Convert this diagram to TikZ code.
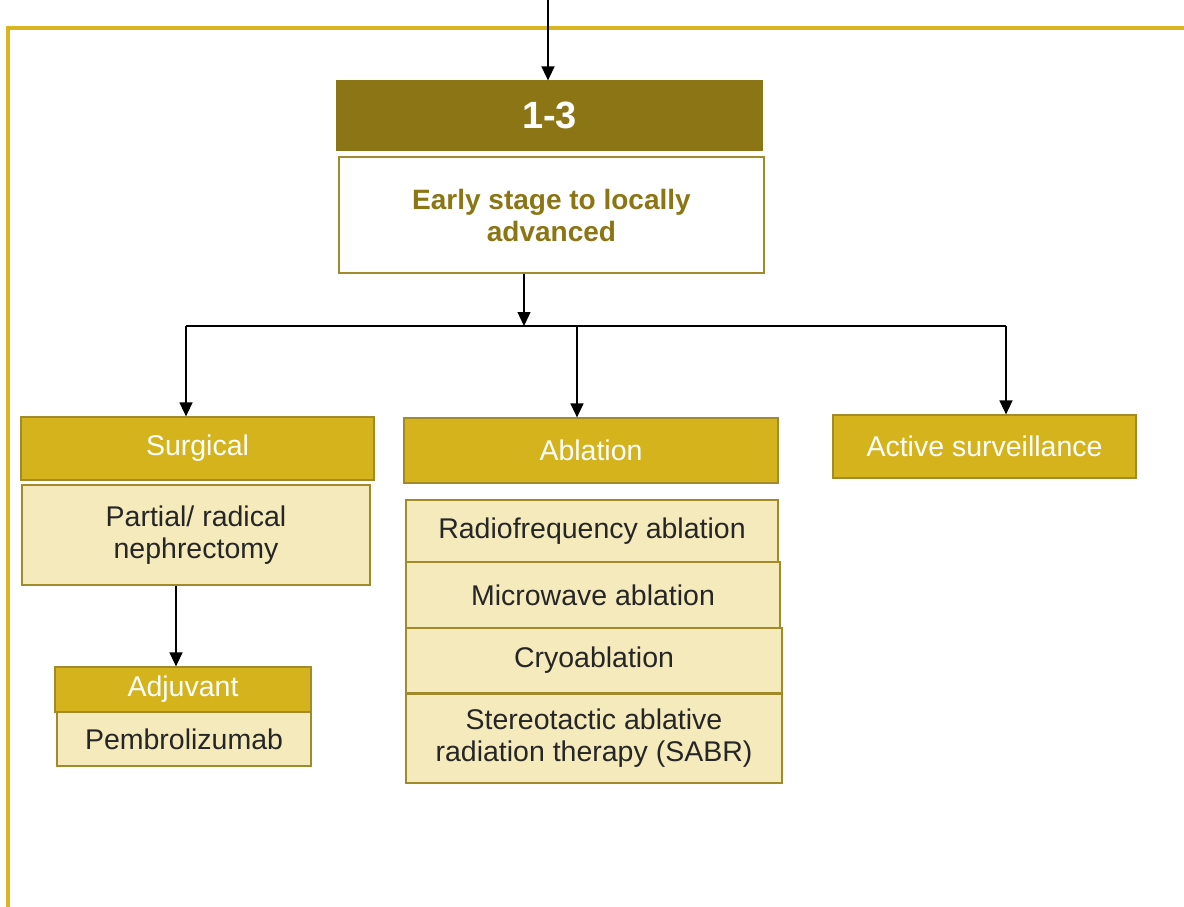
\documentclass[tikz,border=0pt]{standalone}
\usepackage{fontspec}
\setmainfont{Liberation Sans}
\usetikzlibrary{arrows.meta}
\definecolor{olive}{HTML}{8C7514}
\definecolor{gold}{HTML}{D4B31C}
\definecolor{pale}{HTML}{F5EABC}
\definecolor{edge}{HTML}{A08A2A}
\definecolor{frame}{HTML}{D9B520}
\tikzset{
  box/.style={rectangle, draw=edge, line width=1.2pt, inner sep=0pt, align=center,
    font=\fontsize{28.5}{32}\selectfont},
  headbox/.style={box, fill=gold, text=white},
  itembox/.style={box, fill=pale, text=black!85},
  arr/.style={line width=1.4pt, -{Triangle[width=13pt,length=14pt]}},
  plain/.style={line width=1.4pt},
}
\newcommand{\bx}[6]{% style, name, x1, y1, x2, y2 ... text follows
  \node[#1, minimum width={#5-#3}, minimum height={#6-#4}] (#2) at ({(#3+#5)/2},{(#4+#6)/2})}
\begin{document}
\begin{tikzpicture}[x=1pt,y=-1pt]
\useasboundingbox (0,0) rectangle (1184,907);
% frame
\draw[frame, line width=3.5pt] (8,907) -- (8,28) -- (1184,28);
% top box
\bx{box, fill=olive, draw=olive, text=white, font=\bfseries\fontsize{38}{44}\selectfont}{n13}{337}{81}{762}{150} {1-3};
\bx{box, fill=white, text=olive, font=\bfseries\fontsize{28}{32}\selectfont}{early}{339}{157}{764}{273} {Early stage to locally\\advanced};
% heads
\bx{headbox}{surg}{21}{417}{374}{480} {Surgical};
\bx{itembox}{part}{22}{485}{370}{585} {Partial/ radical\\nephrectomy};
\bx{headbox}{adj}{55}{667}{311}{712} {Adjuvant};
\bx{itembox}{pemb}{57}{712}{311}{766} {Pembrolizumab};
\bx{headbox}{abl}{404}{418}{778}{483} {Ablation};
\bx{itembox}{rfa}{406}{500}{778}{562} {Radiofrequency ablation};
\bx{itembox}{mwa}{406}{562}{780}{628} {Microwave ablation};
\bx{itembox}{cryo}{406}{628}{782}{693} {Cryoablation};
\bx{itembox}{sabr}{406}{694}{782}{783} {Stereotactic ablative\\radiation therapy (SABR)};
\bx{headbox}{act}{833}{415}{1136}{478} {Active surveillance};
% connectors
\coordinate (top) at (548,0);
\coordinate (j) at (524,326);
\coordinate (jl) at (186,326);
\coordinate (jm) at (577,326);
\coordinate (jr) at (1006,326);
\coordinate (sd) at (176,0);
\draw[arr] (top) -- (top |- n13.north);
\draw[arr] (j |- early.south) -- (j);
\draw[plain] (jl) -- (jr);
\draw[arr] (jl) -- (jl |- surg.north);
\draw[arr] (jm) -- (jm |- abl.north);
\draw[arr] (jr) -- (jr |- act.north);
\draw[arr] (sd |- part.south) -- (sd |- adj.north);
\end{tikzpicture}
\end{document}
